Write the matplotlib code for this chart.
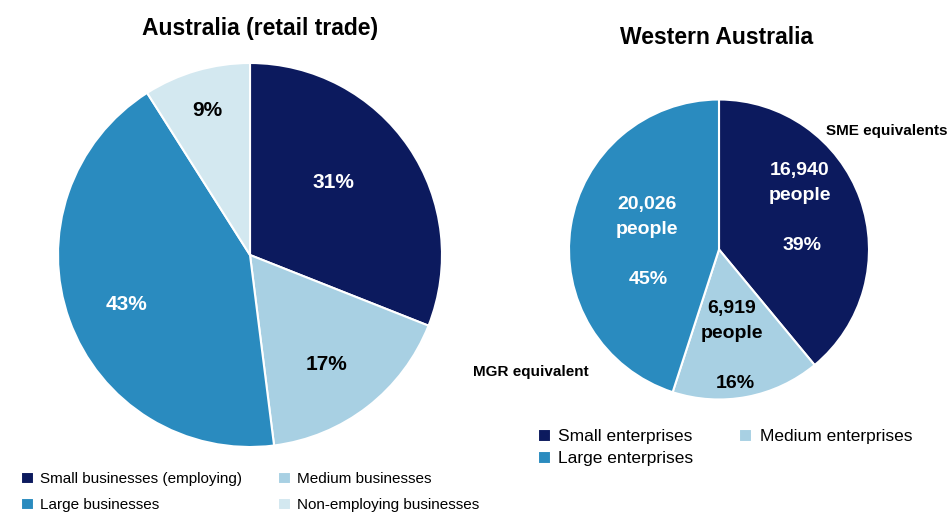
import matplotlib.pyplot as plt

plt.rcParams['font.family'] = ['Liberation Sans', 'DejaVu Sans']

NAVY = '#0c1a5e'
MID = '#2a8bbf'
LIGHT = '#a8d0e3'
PALE = '#d3e8f0'

# Australia (retail trade) shares, clockwise from 12 o'clock
aus_labels = ['Small businesses (employing)', 'Medium businesses',
              'Large businesses', 'Non-employing businesses']
aus_share = [31, 17, 43, 9]

# Western Australia
wa_labels = ['Small enterprises', 'Medium enterprises', 'Large enterprises']
wa_share = [39, 16, 45]
wa_people = ['16,940', '6,919', '20,026']

H = 512
fig = plt.figure(figsize=(9.49, 5.12), dpi=100)
ax = fig.add_axes([0, 0, 1, 1])

wp = dict(edgecolor='white', linewidth=1.5)
aus_w, _ = ax.pie(aus_share, colors=[NAVY, LIGHT, MID, PALE], startangle=90,
                  counterclock=False, center=(250, H - 255), radius=192,
                  wedgeprops=wp, frame=True)
wa_w, _ = ax.pie(wa_share, colors=[NAVY, LIGHT, MID], startangle=90,
                 counterclock=False, center=(719, H - 249.5), radius=150,
                 wedgeprops=wp, frame=True)
ax.set_xlim(0, 949)
ax.set_ylim(0, H)
ax.set_aspect('equal')
ax.axis('off')

def txt(x, y, s, color='black', size=15, **kw):
    ax.text(x, H - y, s, color=color, fontsize=size, fontweight='bold',
            ha='center', va='center', **kw)

txt(260, 29, 'Australia (retail trade)', size=16.5)
txt(717, 38, 'Western Australia', size=16.5)

txt(333, 183, f'{aus_share[0]}%', 'white')
txt(327, 365, f'{aus_share[1]}%')
txt(127, 305, f'{aus_share[2]}%', 'white')
txt(207, 111, f'{aus_share[3]}%')

txt(800, 183, f'{wa_people[0]}\npeople', 'white', 14, linespacing=1.6)
txt(802, 245, f'{wa_share[0]}%', 'white', 14)
txt(732, 321, f'{wa_people[1]}\npeople', 'black', 14, linespacing=1.55)
txt(735, 383, f'{wa_share[1]}%', 'black', 14)
txt(647, 217, f'{wa_people[2]}\npeople', 'white', 14, linespacing=1.6)
txt(648, 279, f'{wa_share[2]}%', 'white', 14)

ax.text(948, H - 131, 'SME equivalents', fontsize=11, fontweight='bold',
        ha='right', va='center')
ax.text(473, H - 372, 'MGR equivalent', fontsize=11, fontweight='bold',
        ha='left', va='center')

# legends: column-first fill, so reorder
order = [0, 2, 1, 3]
fig.legend([aus_w[i] for i in order], [aus_labels[i] for i in order],
           ncol=2, loc='upper left', bbox_to_anchor=(21 / 949, 1 - 472 / H),
           frameon=False, fontsize=11, handlelength=0.85, handleheight=0.85,
           handletextpad=0.42, columnspacing=2.3, labelspacing=0.75,
           borderpad=0, borderaxespad=0)
order = [0, 2, 1]
fig.legend([wa_w[i] for i in order], [wa_labels[i] for i in order],
           ncol=2, loc='upper left', bbox_to_anchor=(538 / 949, 1 - 429 / H),
           frameon=False, fontsize=12.5, handlelength=0.75, handleheight=0.75,
           handletextpad=0.42, columnspacing=2.64, labelspacing=0.38,
           borderpad=0, borderaxespad=0)

fig.savefig('out.png', dpi=100, facecolor='white')
